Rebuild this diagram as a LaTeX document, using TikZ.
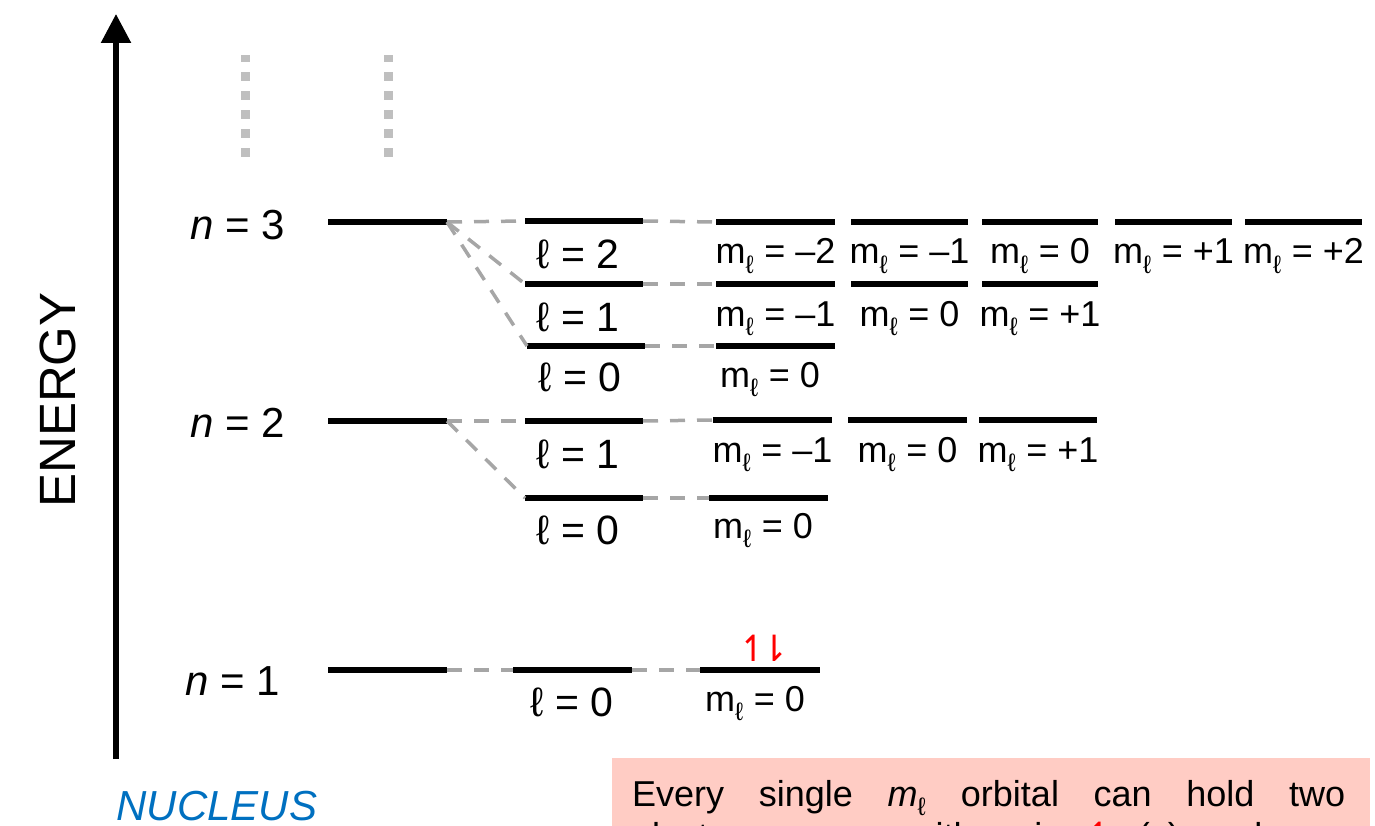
\documentclass[tikz,border=0pt]{standalone}
\usepackage{fontspec}
\setmainfont{Liberation Sans}
\newfontfamily\arrowfont{DejaVu Sans}
\usetikzlibrary{arrows.meta}

\definecolor{boxpink}{RGB}{255,204,196}
\definecolor{nucblue}{RGB}{0,112,192}
\definecolor{spinred}{RGB}{255,0,0}

\newcommand{\mlab}[1]{m\textsubscript{ℓ} = #1}
\newcommand{\upharp}{{\arrowfont ↿}}
\newcommand{\downharp}{{\arrowfont ⇂}}

\tikzset{
  lvl/.style={line width=6pt},
  link/.style={draw=black!35, line width=3.5pt, dash pattern=on 15pt off 12pt},
  dots/.style={draw=black!25, line width=9pt, dash pattern=on 9pt off 10pt},
  nlab/.style={anchor=base, font=\fontsize{42}{46}\selectfont},
  llab/.style={anchor=base, font=\fontsize{41}{46}\selectfont},
  mlabel/.style={anchor=base, font=\fontsize{36}{40}\selectfont},
  notetext/.style={anchor=base west, inner sep=0pt, font=\fontsize{36}{40}\selectfont},
}

\begin{document}
\begin{tikzpicture}[x=1pt, y=-1pt]
\useasboundingbox (0,0) rectangle (1375,826);
\clip (0,0) rectangle (1375,826);

% energy axis
\coordinate (axB) at (116,759);
\coordinate (axT) at (116,14);
\draw[line width=5.5pt, -{Triangle[length=29pt,width=29pt]}] (axB) -- (axT);
\node[rotate=90, font=\fontsize{51}{55}\selectfont] (energy) at (58,400) {ENERGY};
\node[text=nucblue, font=\fontsize{42}{46}\selectfont\itshape] (nucleus) at (217,806) {NUCLEUS};

% higher shells continue upward
\coordinate (d1b) at (245,157); \coordinate (d1t) at (245,55);
\coordinate (d2b) at (388,157); \coordinate (d2t) at (388,55);
\draw[dots] (d1b) -- (d1t);
\draw[dots] (d2b) -- (d2t);

% ---------- shell n = 3 ----------
\node[nlab] (n3lab) at (238,240) {\textit{n} = 3};
\coordinate (n3L) at (328,222); \coordinate (n3R) at (447,222);
\draw[lvl] (n3L) -- (n3R);

\coordinate (a2L) at (525,221); \coordinate (a2R) at (643,221);
\coordinate (a1L) at (525,284); \coordinate (a1R) at (643,284);
\coordinate (a0L) at (527,346); \coordinate (a0R) at (645,346);
\draw[lvl] (a2L) -- (a2R);
\draw[lvl] (a1L) -- (a1R);
\draw[lvl] (a0L) -- (a0R);
\node[llab] (a2lab) at (578,269) {ℓ = 2};
\node[llab] (a1lab) at (578,331) {ℓ = 1};
\node[llab] (a0lab) at (580,391) {ℓ = 0};

\draw[link] (n3R) -- (a2L);
\draw[link] (n3R) -- (a1L);
\draw[link] (n3R) -- (a0L);

% m levels of l = 2
\foreach \i/\xa/\xb/\t in {1/716/835/–2, 2/851/968/–1, 3/982/1098/0, 4/1115/1232/+1, 5/1245/1362/+2}{
  \coordinate (p\i L) at (\xa,222); \coordinate (p\i R) at (\xb,222);
  \draw[lvl] (p\i L) -- (p\i R);
  \node[mlabel] (p\i lab) at ({(\xa+\xb)/2},264) {\mlab{\t}};
}
% m levels of l = 1
\foreach \i/\xa/\xb/\t in {1/716/835/–1, 2/851/968/0, 3/982/1098/+1}{
  \coordinate (q\i L) at (\xa,284); \coordinate (q\i R) at (\xb,284);
  \draw[lvl] (q\i L) -- (q\i R);
  \node[mlabel] (q\i lab) at ({(\xa+\xb)/2},326) {\mlab{\t}};
}
% m level of l = 0
\coordinate (r1L) at (716,346); \coordinate (r1R) at (835,346);
\draw[lvl] (r1L) -- (r1R);
\node[mlabel] (r1lab) at (770,387) {\mlab{0}};

\draw[link] (a2R) -- (p1L);
\draw[link] (a1R) -- (q1L);
\draw[link] (a0R) -- (r1L);

% ---------- shell n = 2 ----------
\node[nlab] (n2lab) at (238,437) {\textit{n} = 2};
\coordinate (n2L) at (328,421); \coordinate (n2R) at (447,421);
\draw[lvl] (n2L) -- (n2R);

\coordinate (b1L) at (525,421); \coordinate (b1R) at (643,421);
\coordinate (b0L) at (525,498); \coordinate (b0R) at (643,498);
\draw[lvl] (b1L) -- (b1R);
\draw[lvl] (b0L) -- (b0R);
\node[llab] (b1lab) at (578,468) {ℓ = 1};
\node[llab] (b0lab) at (578,544) {ℓ = 0};

\draw[link] (n2R) -- (b1L);
\draw[link] (n2R) -- (b0L);

\foreach \i/\xa/\xb/\t in {1/713/832/–1, 2/848/967/0, 3/979/1097/+1}{
  \coordinate (s\i L) at (\xa,420); \coordinate (s\i R) at (\xb,420);
  \draw[lvl] (s\i L) -- (s\i R);
  \node[mlabel] (s\i lab) at ({(\xa+\xb)/2},462) {\mlab{\t}};
}
\coordinate (t1L) at (709,498); \coordinate (t1R) at (828,498);
\draw[lvl] (t1L) -- (t1R);
\node[mlabel] (t1lab) at (763,538) {\mlab{0}};

\draw[link] (b1R) -- (s1L);
\draw[link] (b0R) -- (t1L);

% ---------- shell n = 1 ----------
\node[nlab] (n1lab) at (233,695) {\textit{n} = 1};
\coordinate (n1L) at (328,670); \coordinate (n1R) at (447,670);
\draw[lvl] (n1L) -- (n1R);

\coordinate (c0L) at (513,670); \coordinate (c0R) at (632,670);
\draw[lvl] (c0L) -- (c0R);
\node[llab] (c0lab) at (572,716) {ℓ = 0};

\coordinate (u1L) at (700,670); \coordinate (u1R) at (820,670);
\draw[lvl] (u1L) -- (u1R);
\node[mlabel] (u1lab) at (755,711) {\mlab{0}};
\node[anchor=base, text=spinred, font=\fontsize{36}{40}\selectfont] (pair) at (764,661) {\upharp\hspace{-9pt}\downharp};

\draw[link] (n1R) -- (c0L);
\draw[link] (c0R) -- (u1L);

% ---------- note ----------
\node[fill=boxpink, anchor=north west, minimum width=758pt, minimum height=140pt, inner sep=0pt] (note) at (612,758) {};
\node[notetext] (line1) at (632,806)
  {\makebox[713pt][s]{Every single \textit{m}\textsubscript{ℓ} orbital can hold two}};
\node[notetext] (line2) at (632,848)
  {\makebox[713pt][s]{electrons: one with spin \textcolor{spinred}{\upharp} (\textcolor{spinred}{↑}) and one}};
\end{tikzpicture}
\end{document}
